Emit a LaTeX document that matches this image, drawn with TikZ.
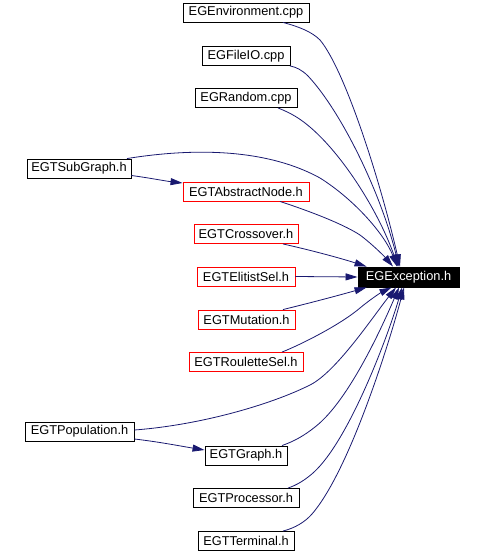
\documentclass[tikz,border=0pt]{standalone}
\usepackage{fontspec}
\setmainfont{Liberation Sans}
\usetikzlibrary{arrows.meta,calc}
\definecolor{edgeblue}{RGB}{25,25,112}
\begin{document}
\begin{tikzpicture}[x=1pt,y=-1pt,
  box/.style={draw=black,line width=0.9pt,rectangle,inner sep=0pt,minimum height=19pt,
    font=\fontsize{12.8}{14}\selectfont,text=black,fill=white},
  redbox/.style={box,draw=red},
  mainbox/.style={box,fill=black,text=white},
  edge/.style={draw=edgeblue,line width=0.8pt,-{Triangle[length=12pt,width=7pt]},fill=none}]
\useasboundingbox (0,0) rectangle (481,553);
\node[box,minimum width=126pt] (env) at (246,12.5) {EGEnvironment.cpp};
\node[box,minimum width=88pt] (fileio) at (246,56) {EGFileIO.cpp};
\node[box,minimum width=102pt] (random) at (246,98) {EGRandom.cpp};
\node[box,minimum width=104pt] (subgraph) at (79,168.5) {EGTSubGraph.h};
\node[redbox,minimum width=126pt] (abstract) at (246,191.5) {EGTAbstractNode.h};
\node[redbox,minimum width=104pt] (crossover) at (246,234) {EGTCrossover.h};
\node[redbox,minimum width=98pt] (elitist) at (246,276.5) {EGTElitistSel.h};
\node[mainbox,minimum width=101pt,minimum height=20pt] (exc) at (408.5,277) {EGException.h};
\node[redbox,minimum width=97pt] (mutation) at (246.5,319.5) {EGTMutation.h};
\node[redbox,minimum width=114pt] (roulette) at (246,362) {EGTRouletteSel.h};
\node[box,minimum width=109pt] (population) at (79.5,431.5) {EGTPopulation.h};
\node[box,minimum width=82pt] (graph) at (246,455.5) {EGTGraph.h};
\node[box,minimum width=106pt] (processor) at (246,498) {EGTProcessor.h};
\node[box,minimum width=96pt] (terminal) at (246,541) {EGTTerminal.h};

\draw[edge] ($(env.south)+(37,0)$) .. controls (300,27) and (312,32) .. (320,40)
  .. controls (345,70) and (380,180) .. ($(exc.north)+(-8.5,0)$);
\draw[edge] ($(fileio.south)+(44,0)$) .. controls (296,67) and (302,70) .. (308,76)
  .. controls (340,110) and (380,190) .. ($(exc.north)+(-9.5,0)$);
\draw[edge] ($(random.south)+(32,0)$) .. controls (288,112) and (296,116) .. (305,123)
  .. controls (340,150) and (378,210) .. ($(exc.north)+(-10.5,0)$);
\draw[edge] ($(subgraph.north)+(48,0)$) .. controls (180,150) and (260,145) .. (320,178)
  .. controls (355,200) and (385,235) .. ($(exc.north)+(-11.5,0)$);
\draw[edge] ($(subgraph.east)+(0,7)$) .. controls (150,178) and (165,181) .. ($(abstract.west)+(0,-8.5)$);
\draw[edge] ($(abstract.south)+(34,0)$) .. controls (300,208) and (340,222) .. (360,235)
  .. controls (372,244) and (384,256) .. ($(exc.north)+(-15.5,0)$);
\draw[edge] ($(crossover.south)+(37,0)$) .. controls (310,250) and (340,258) .. ($(exc.north west)+(9,0)$);
\draw[edge] (elitist.east) -- (exc.west);
\draw[edge] ($(mutation.north)+(36.5,0)$) .. controls (310,303) and (340,295) .. ($(exc.south west)+(9,0)$);
\draw[edge] ($(roulette.north)+(36,0)$) .. controls (300,345) and (340,325) .. (360,308)
  .. controls (372,298) and (382,292) .. ($(exc.south)+(-17,0)$);
\draw[edge] ($(population.east)+(0,-1.5)$) .. controls (200,425) and (270,405) .. (310,385)
  .. controls (336,372) and (372,318) .. ($(exc.south)+(-12.5,0)$);
\draw[edge] ($(population.east)+(0,7.5)$) .. controls (160,442) and (180,446) .. ($(graph.west)+(0,-5.5)$);
\draw[edge] ($(graph.north)+(36,0)$) .. controls (295,441) and (305,435) .. (315,427)
  .. controls (350,400) and (385,320) .. ($(exc.south)+(-9.5,0)$);
\draw[edge] ($(processor.north)+(42,0)$) .. controls (297,485) and (305,480) .. (313,473)
  .. controls (350,440) and (390,330) .. ($(exc.south)+(-6.5,0)$);
\draw[edge] ($(terminal.north)+(37,0)$) .. controls (295,528) and (305,522) .. (312,514)
  .. controls (350,470) and (390,340) .. ($(exc.south)+(-4.5,0)$);
\end{tikzpicture}
\end{document}
